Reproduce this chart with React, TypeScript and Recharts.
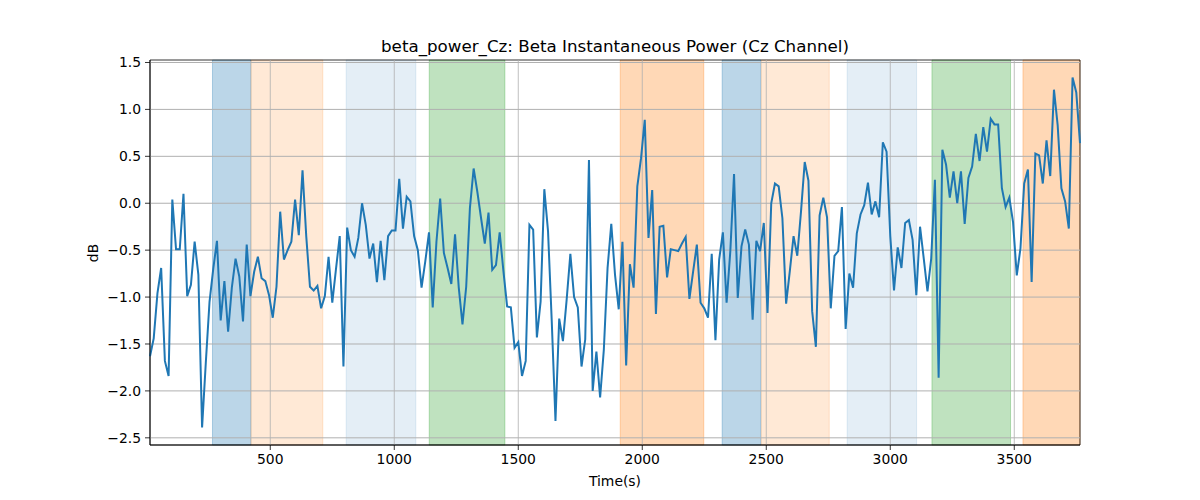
import React from 'react';
import { LineChart, Line, XAxis, YAxis, ReferenceArea, ReferenceLine } from 'recharts';

// sampling grid of the recording (seconds)
const TIME_START = 15;
const TIME_STEP = 15;

// beta power (dB), in five consecutive chunks
const betaPowerA = [
  -1.63, -1.44, -0.96, -0.69, -1.68, -1.84, 0.04, -0.49, -0.49, 0.1,
  -0.99, -0.87, -0.41, -0.76, -2.39, -1.7, -1.05, -0.7, -0.4, -1.25,
  -0.83, -1.37, -0.9, -0.59, -0.78, -1.26, -0.44, -0.99, -0.73, -0.57,
  -0.8, -0.83, -0.98, -1.22, -0.89, -0.09, -0.6, -0.5, -0.41, 0.04,
  -0.34, 0.35, -0.35, -0.89, -0.93, -0.88, -1.12, -0.99, -0.57, -1.06,
];
const betaPowerB = [
  -0.7, -0.35, -1.74, -0.26, -0.5, -0.57, -0.37, 0.0, -0.23, -0.59,
  -0.43, -0.84, -0.4, -0.82, -0.35, -0.29, -0.29, 0.26, -0.27, 0.07,
  0.02, -0.35, -0.5, -0.9, -0.62, -0.31, -1.11, -0.41, 0.05, -0.53,
  -0.69, -0.86, -0.33, -0.9, -1.29, -0.89, -0.05, 0.37, 0.12, -0.16,
  -0.43, -0.1, -0.71, -0.66, -0.31, -0.72, -1.1, -1.11, -1.54, -1.48,
];
const betaPowerC = [
  -1.84, -1.68, -0.23, -0.28, -1.43, -1.05, 0.15, -0.3, -1.26, -2.32,
  -1.23, -1.47, -1.03, -0.54, -1.0, -1.11, -1.74, -1.45, 0.46, -2.0,
  -1.58, -2.07, -1.56, -0.69, -0.22, -0.76, -1.13, -0.41, -1.73, -0.65,
  -0.9, 0.18, 0.48, 0.89, -0.37, 0.14, -1.18, -0.25, -0.24, -0.79,
  -0.49, -0.5, -0.51, -0.43, -0.36, -1.02, -0.73, -0.44, -1.06, -1.12,
];
const betaPowerD = [
  -1.22, -0.54, -1.46, -0.6, -0.31, -1.06, -0.51, 0.31, -1.01, -0.46,
  -0.28, -0.44, -1.24, -0.4, -0.51, -0.21, -1.17, 0.0, 0.21, 0.18,
  -0.16, -1.07, -0.72, -0.35, -0.56, -0.09, 0.44, 0.24, -1.15, -1.53,
  -0.13, 0.06, -0.15, -1.12, -0.56, -0.51, -0.04, -1.34, -0.75, -0.9,
  -0.32, -0.12, -0.02, 0.22, -0.12, 0.02, -0.15, 0.65, 0.55, -0.35,
];
const betaPowerE = [
  -0.93, -0.47, -0.69, -0.21, -0.18, -0.39, -0.98, -0.25, -0.59, -0.94,
  -0.59, 0.25, -1.86, 0.57, 0.41, 0.06, 0.34, 0.0, 0.34, -0.22,
  0.27, 0.39, 0.74, 0.45, 0.81, 0.55, 0.9, 0.84, 0.84, 0.16,
  -0.04, 0.06, -0.2, -0.77, -0.48, 0.21, 0.36, -0.84, 0.53, 0.51,
  0.21, 0.67, 0.29, 1.21, 0.83, 0.16, 0.02, -0.27, 1.34, 1.18,
  0.64,
];

// shaded task intervals (seconds)
const bandStart = [267, 422, 806, 1141, 1911, 2322, 2480, 2826, 3168, 3535];
const bandEnd = [422, 712, 1087, 1446, 2248, 2478, 2754, 3106, 3485, 3765];
const bandKind = ['a', 'b', 'c', 'd', 'e', 'a', 'b', 'c', 'd', 'e'];

const xTicks = [500, 1000, 1500, 2000, 2500, 3000, 3500];
const yTicks = [-2.5, -2.0, -1.5, -1.0, -0.5, 0.0, 0.5, 1.0, 1.5];

const X_MIN = 15;
const X_MAX = 3765;
const Y_MIN = -2.5765;
const Y_MAX = 1.5265;

const bandStyle: Record<string, { color: string; alpha: number }> = {
  a: { color: '#1f77b4', alpha: 0.3 },
  b: { color: '#ff7f0e', alpha: 0.17 },
  c: { color: '#1f77b4', alpha: 0.12 },
  d: { color: '#2ca02c', alpha: 0.3 },
  e: { color: '#ff7f0e', alpha: 0.3 },
};

const betaPower = [...betaPowerA, ...betaPowerB, ...betaPowerC, ...betaPowerD, ...betaPowerE];
const data = betaPower.map((v, i) => ({ t: TIME_START + TIME_STEP * i, v }));

const FONT = 'DejaVu Sans';
const GRID = '#b0b0b0';
const fmtY = (v: number) => v.toFixed(1).replace('-', '\u2212');

export default function App() {
  return (
    <div style={{ position: 'absolute', left: 0, top: 0, width: 1200, height: 500, background: '#fff' }}>
      <LineChart
        width={1200}
        height={500}
        data={data}
        margin={{ top: 60, right: 120, bottom: 0, left: 0 }}
      >
        <XAxis
          dataKey="t"
          type="number"
          domain={[X_MIN, X_MAX]}
          ticks={xTicks}
          height={55}
          tickSize={5}
          tickMargin={4}
          interval={0}
          stroke="#000"
          tickLine={{ stroke: '#000', strokeWidth: 0.8 }}
          axisLine={{ stroke: '#000', strokeWidth: 0.8 }}
          tick={{ fill: '#000', fontSize: 13.9, fontFamily: FONT }}
          label={() => (
            <text x={615} y={486} textAnchor="middle" fontSize={13.9} fontFamily={FONT} fill="#000">
              Time(s)
            </text>
          )}
        />
        <YAxis
          type="number"
          domain={[Y_MIN, Y_MAX]}
          ticks={yTicks}
          allowDataOverflow
          width={150}
          tickSize={5}
          tickMargin={4}
          interval={0}
          tickFormatter={fmtY}
          stroke="#000"
          tickLine={{ stroke: '#000', strokeWidth: 0.8 }}
          axisLine={{ stroke: '#000', strokeWidth: 0.8 }}
          tick={{ fill: '#000', fontSize: 13.9, fontFamily: FONT }}
          label={() => (
            <text
              x={98}
              y={253}
              transform="rotate(-90 98 253)"
              textAnchor="middle"
              fontSize={13.9}
              fontFamily={FONT}
              fill="#000"
            >
              dB
            </text>
          )}
        />
        {bandStart.map((s, i) => {
          const st = bandStyle[bandKind[i]];
          return (
            <ReferenceArea
              key={'band' + i}
              x1={s}
              x2={bandEnd[i]}
              y1={Y_MIN}
              y2={Y_MAX}
              fill={st.color}
              fillOpacity={st.alpha}
              stroke={st.color}
              strokeOpacity={st.alpha}
              strokeWidth={1}
            />
          );
        })}
        {xTicks.map((t) => (
          <ReferenceLine key={'gx' + t} x={t} stroke={GRID} strokeWidth={0.8} />
        ))}
        {yTicks.map((t) => (
          <ReferenceLine key={'gy' + t} y={t} stroke={GRID} strokeWidth={1} />
        ))}
        <Line
          dataKey="v"
          type="linear"
          stroke="#1f77b4"
          strokeWidth={2}
          dot={false}
          activeDot={false}
          isAnimationActive={false}
        />
        <ReferenceArea
          x1={X_MIN}
          x2={X_MAX}
          y1={Y_MIN}
          y2={Y_MAX}
          fill="none"
          stroke="#000"
          strokeWidth={0.8}
          label={() => (
            <text x={615} y={52} textAnchor="middle" fontSize={16.7} fontFamily={FONT} fill="#000">
              beta_power_Cz: Beta Instantaneous Power (Cz Channel)
            </text>
          )}
        />
      </LineChart>
    </div>
  );
}
